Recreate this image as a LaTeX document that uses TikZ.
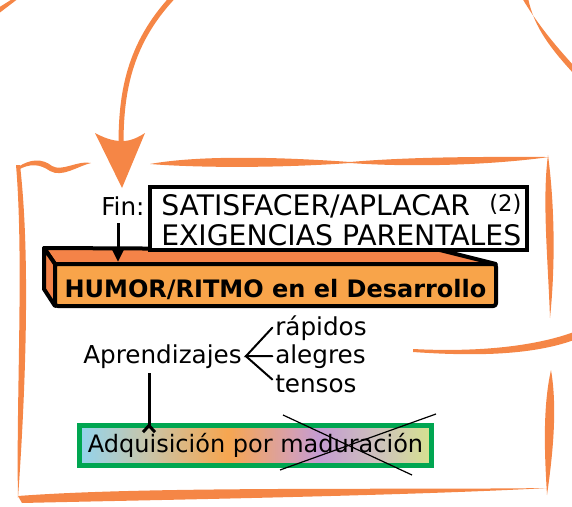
\documentclass[tikz,border=0pt]{standalone}
\usepackage{fontspec}
\setmainfont{DejaVu Sans}
\usepackage{tikz}
\usetikzlibrary{arrows.meta}

\definecolor{frameorange}{RGB}{245,134,70}
\definecolor{faceorange}{RGB}{248,164,74}
\definecolor{sideorange}{RGB}{244,131,72}
\definecolor{adqgreen}{RGB}{0,166,81}
\definecolor{shblue}{RGB}{146,212,238}
\definecolor{shbeige}{RGB}{202,196,166}
\definecolor{shorange}{RGB}{246,166,80}
\definecolor{shpink}{RGB}{216,160,172}
\definecolor{shpurple}{RGB}{196,156,210}
\definecolor{shgrey}{RGB}{206,196,186}
\definecolor{shlime}{RGB}{214,226,142}

\pgfdeclarehorizontalshading{adqshade}{100bp}{color(0bp)=(shblue); color(25bp)=(shblue); color(35bp)=(shbeige); color(46bp)=(shorange); color(55bp)=(shpink); color(59bp)=(shpurple); color(68bp)=(shgrey); color(75bp)=(shlime); color(100bp)=(shlime)}

\begin{document}
\begin{tikzpicture}[x=0.75pt,y=0.75pt,yscale=-1,
    brush/.style={fill=frameorange, draw=none},
    blockline/.style={draw=black, line width=3pt, line join=round},
    txt/.style={inner sep=0pt, font=\fontsize{18.5}{22}\selectfont},
    captxt/.style={inner sep=0pt, font=\fontsize{21.2}{24}\selectfont},
    braceline/.style={draw=black, line width=1.5pt, line cap=round}]
    \useasboundingbox (0,0) rectangle (572,507);

    %Shape: Brush [top left corner]
    \path[brush] (-2,8) -- (14,-2) -- (19,-2) -- (-2,14) -- cycle ;
    %Shape: Brush [top right corner]
    \path[brush] (522,-2) .. controls (538,25) and (555,45) .. (574,66) -- (574,74) .. controls (552,50) and (534,28) .. (528,-2) -- cycle ;

    %Shape: Brush [frame top left]
    \path[brush] (18,167) .. controls (30,159) and (42,158) .. (52,166) .. controls (62,172) and (78,160) .. (91,163) .. controls (78,166) and (62,178) .. (50,171) .. controls (40,164) and (30,163) .. (18,170) -- cycle ;
    %Shape: Brush [frame top]
    \path[brush] (150,164) .. controls (200,155) and (280,157) .. (350,162) .. controls (420,156) and (500,157) .. (549,157) .. controls (500,164) and (420,168) .. (350,163) .. controls (280,168) and (200,168) .. (150,164) -- cycle ;
    %Shape: Brush [frame left]
    \path[brush] (16,165) .. controls (24,260) and (16,400) .. (18,498) .. controls (25,400) and (31,260) .. (20,165) -- cycle ;
    %Shape: Brush [frame right, upper]
    \path[brush] (548,155) .. controls (542,200) and (548,260) .. (550,318) .. controls (556,260) and (554,200) .. (548,155) -- cycle ;
    %Shape: Brush [frame right, cross stroke]
    \path[brush] (413,349) .. controls (470,352) and (530,348) .. (574,332) -- (574,340) .. controls (530,356) and (470,356) .. (413,352) -- cycle ;
    %Shape: Brush [frame right, lower]
    \path[brush] (551,370) .. controls (542,410) and (545,460) .. (547,495) .. controls (552,460) and (558,410) .. (551,370) -- cycle ;
    %Shape: Brush [frame bottom]
    \path[brush] (18,496) .. controls (150,486) and (400,490) .. (548,488) .. controls (400,496) and (150,500) .. (22,503) -- cycle ;

    %Curve Lines [big arrow]
    \coordinate (bigstart) at (173,-3);
    \coordinate (bighead) at (121,145);
    \coordinate (bigtip) at (122,188);
    \draw[frameorange, line width=3.75pt] (bigstart) .. controls (128,45) and (121,95) .. (bighead) ;
    \fill[frameorange, shift={(bigtip)}] (0,0) -- (-27,-55) .. controls (-14,-48) and (-6,-47) .. (0,-47) .. controls (6,-47) and (12,-48) .. (23,-55) -- cycle ;

    %Shape: Box 3D [top and side faces]
    \draw[blockline, fill=sideorange] (44,248) -- (440,250) -- (496,264) -- (55,264) -- cycle ;
    \draw[blockline, fill=sideorange] (44,248) -- (55,264) -- (55,306) -- (44,289) -- cycle ;
    % Text Node
    \node[blockline, fill=faceorange, rounded corners=2pt, minimum width=330.75pt, minimum height=31.5pt, inner sep=0pt, text height=18pt, text depth=0pt, font=\fontsize{18}{21}\selectfont\bfseries] (humor) at (275.5,285) {HUMOR/RITMO en el Desarrollo};

    %Shape: Rectangle [white box]
    \node[draw=black, fill=white, line width=3.5pt, minimum width=282.75pt, minimum height=47.25pt, inner sep=0pt] (exig) at (338.5,218.5) {};
    % Text Node
    \node[captxt, anchor=base west] (satline) at (161,215) {SATISFACER/APLACAR};
    % Text Node
    \node[captxt, anchor=base west] (exigline) at (161,245) {EXIGENCIAS PARENTALES};
    % Text Node
    \node[inner sep=0pt, font=\fontsize{17}{20}\selectfont, anchor=base west] (paren) at (489,211) {(2)};
    % Text Node
    \node[txt, anchor=base west] (fin) at (101,215) {Fin:};

    %Straight Lines [Fin arrow]
    \coordinate (finfoot) at (118,223);
    \draw[line width=2.25pt, -{Triangle[length=9pt,width=8pt]}] (finfoot) -- (finfoot |- humor.north) ;

    % Text Node
    \node[txt, anchor=base west] (aprend) at (83,363) {Aprendizajes};
    % Text Node
    \node[txt, anchor=base west] (rapidos) at (275,335) {rápidos};
    % Text Node
    \node[txt, anchor=base west] (alegres) at (275,363) {alegres};
    % Text Node
    \node[txt, anchor=base west] (tensos) at (275,392) {tensos};

    %Straight Lines [brace]
    \coordinate (brace) at ([xshift=3pt]aprend.east);
    \draw[braceline] ([xshift=-2pt]rapidos.west) -- (brace) -- ([xshift=-2pt]alegres.west) ;
    \draw[braceline] (brace) -- ([xshift=-2pt,yshift=-3pt]tensos.west) ;

    %Shape: Rectangle [gradient box]
    \node[draw=adqgreen, line width=3.75pt, shading=adqshade, minimum width=264pt, minimum height=30pt, inner sep=0pt, font=\fontsize{18}{21}\selectfont] (adq) at (255.5,445.5) {Adquisición por maduración};

    %Straight Lines [Aprendizajes down]
    \coordinate (aprendfoot) at (149,373);
    \draw[line width=2.25pt, -{Straight Barb[reversed,length=5pt,width=9pt]}] (aprendfoot) -- ([yshift=8pt]aprendfoot |- adq.north) ;

    %Straight Lines [cross out]
    \coordinate (crossa) at (283,415);
    \coordinate (crossb) at (412,475);
    \coordinate (crossc) at (280,470);
    \coordinate (crossd) at (436,414);
    \draw[line width=0.9pt] (crossa) -- (crossb) ;
    \draw[line width=0.9pt] (crossc) -- (crossd) ;

\end{tikzpicture}
\end{document}
